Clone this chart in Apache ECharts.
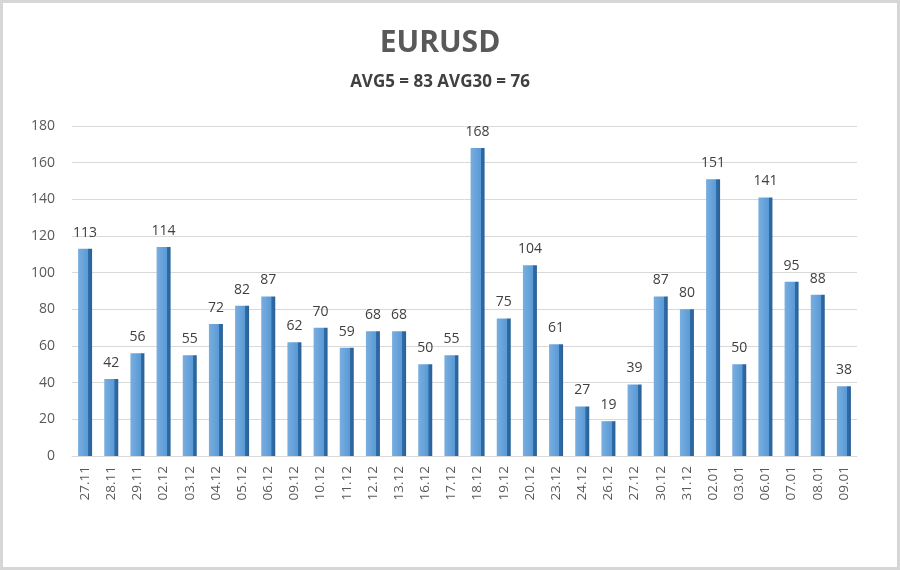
<!DOCTYPE html>
<html><head><meta charset="utf-8">
<script src="https://cdn.jsdelivr.net/npm/echarts@6/dist/echarts.min.js"></script>
<style>
html,body{margin:0;padding:0;background:#fff;}
#c{width:894px;height:564px;border:3px solid #d6d6d6;}
</style></head>
<body><div id="c"></div>
<script>
const categories = ['27.11','28.11','29.11','02.12','03.12','04.12','05.12','06.12','09.12','10.12','11.12','12.12','13.12','16.12','17.12','18.12','19.12','20.12','23.12','24.12','26.12','27.12','30.12','31.12','02.01','03.01','06.01','07.01','08.01','09.01'];
const values = [113,42,56,114,55,72,82,87,62,70,59,68,68,50,55,168,75,104,61,27,19,39,87,80,151,50,141,95,88,38];
const titleText = 'EURUSD';
const subtitleText = 'AVG5 = 83 AVG30 = 76';

const chart = echarts.init(document.getElementById('c'));
chart.setOption({
  animation:false,
  title:{
    text:titleText, subtext:subtitleText, left:432, textAlign:'center', top:20, itemGap:16,
    textStyle:{fontFamily:'Open Sans',fontSize:30,fontWeight:'bold',color:'#595959'},
    subtextStyle:{fontFamily:'Open Sans',fontSize:17,fontWeight:'bold',color:'#404040'}
  },
  grid:{left:69,right:40,top:123,bottom:111},
  xAxis:{
    type:'category', data:categories,
    axisLine:{lineStyle:{color:'#d9d9d9'}}, axisTick:{show:false},
    axisLabel:{rotate:90,color:'#595959',fontFamily:'Open Sans',fontSize:13.5,margin:10}
  },
  yAxis:{
    type:'value', min:0, max:180, interval:20,
    axisLine:{show:false}, axisTick:{show:false},
    splitLine:{lineStyle:{color:'#d9d9d9'}},
    axisLabel:{color:'#595959',fontFamily:'Open Sans',fontSize:14,margin:17}
  },
  series:[{
    type:'bar', data:values, barWidth:14,
    itemStyle:{color:new echarts.graphic.LinearGradient(0,0,1,0,[
      {offset:0,color:'#79aee0'},{offset:0.72,color:'#5a9ad6'},
      {offset:0.74,color:'#2f6ca8'},{offset:1,color:'#2a6196'}])},
    label:{show:true,position:'top',distance:9,color:'#404040',fontFamily:'Open Sans',fontSize:14}
  }]
});
</script></body></html>
